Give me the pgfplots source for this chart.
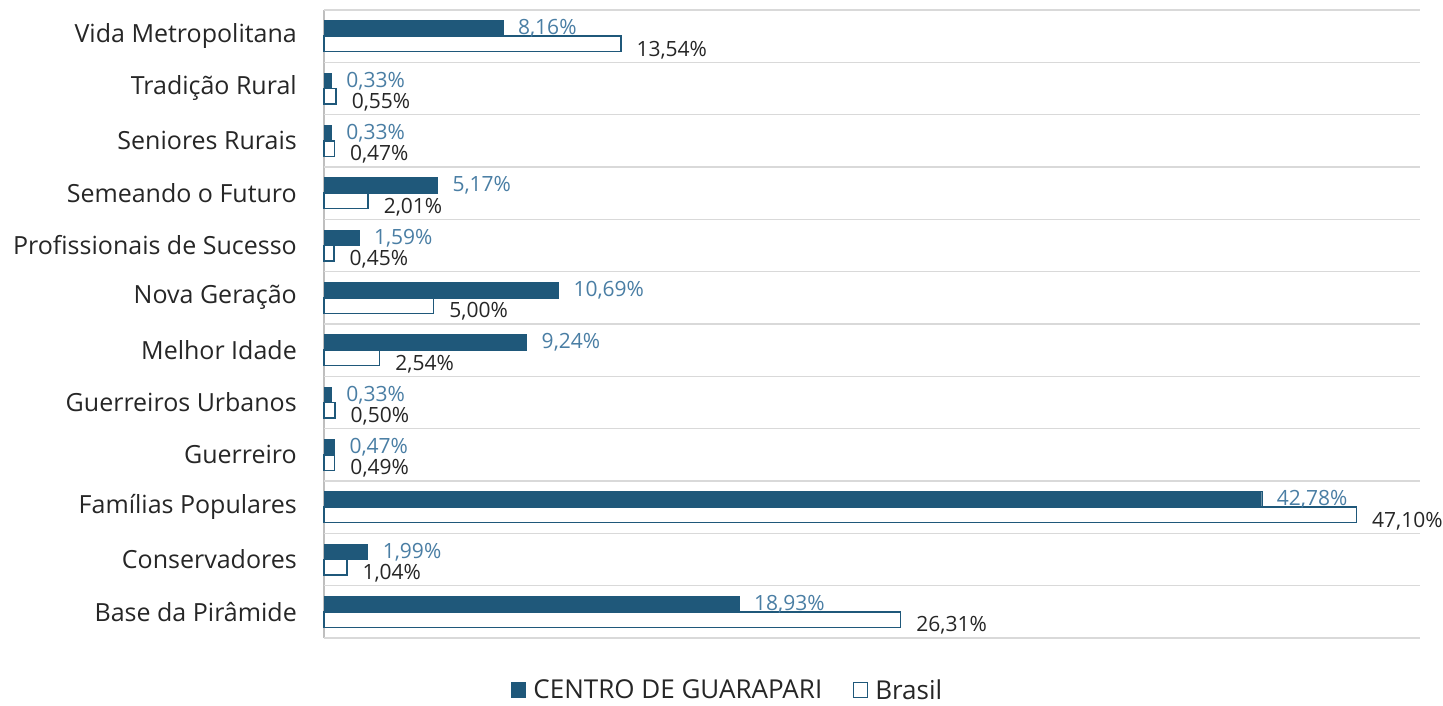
\documentclass[border=0pt]{standalone}
\usepackage{pgfplots}
\pgfplotsset{compat=1.18}
\usepackage{fontspec}
\setmainfont{Open Sans}
\definecolor{darkbar}{RGB}{31,88,122}
\definecolor{lblblue}{RGB}{74,126,164}
\definecolor{txt}{RGB}{38,38,38}
\definecolor{gridc}{RGB}{217,217,217}
\begin{document}
\begin{tikzpicture}
\begin{axis}[
  name=ax,
  scale only axis,
  width=1096bp, height=628bp,
  xbar, clip=false,
  xmin=0, xmax=50,
  ymin=-0.5, ymax=11.5,
  bar width=0.296,
  axis line style={draw=none},
  xtick={0}, xticklabels={},
  xmajorgrids=true,
  x grid style={color=gray!50, line width=1.2bp},
  ytick={0,...,11},
  yticklabels={Base da Pirâmide,Conservadores,Famílias Populares,Guerreiro,Guerreiros Urbanos,Melhor Idade,Nova Geração,Profissionais de Sucesso,Semeando o Futuro,Seniores Rurais,Tradição Rural,Vida Metropolitana},
  minor ytick={-0.5,0.5,...,11.5},
  yminorgrids=true,
  minor grid style={color=gridc, line width=1.5bp},
  major tick length=0pt, minor tick length=0pt,
  yticklabel style={anchor=east, inner sep=0pt, xshift=-27bp, font=\fontsize{25bp}{27bp}\selectfont, text=txt},
  /pgf/number format/assume math mode=true,
  point meta=x,
  nodes near coords={\pgfmathprintnumber[fixed, fixed zerofill, precision=2, use comma]{\pgfplotspointmeta}\%},
  legend columns=2,
  legend style={draw=none, inner sep=0pt, at={(0.368,-0.0828)}, anchor=center, font=\fontsize{26bp}{28bp}\selectfont, text=txt,
    nodes={inner sep=1bp},
    /tikz/every odd column/.style={column sep=6bp},
    /tikz/every even column/.style={column sep=30bp}},
  legend image code/.code={\draw[#1, line width=1bp] (0bp,-7.5bp) rectangle (14bp,7.5bp);},
]
\addplot[fill=darkbar, draw=darkbar, bar shift=0.148,
  every node near coord/.append style={anchor=west, inner sep=0pt, xshift=15bp, text=lblblue, font=\fontsize{21bp}{23bp}\selectfont}]
  coordinates {(18.93,0) (1.99,1) (42.78,2) (0.47,3) (0.33,4) (9.24,5) (10.69,6) (1.59,7) (5.17,8) (0.33,9) (0.33,10) (8.16,11)};
\addlegendentry{\raisebox{0pt}[\height][0pt]{CENTRO DE GUARAPARI}}
\addplot[fill=white, draw=darkbar, line width=1.5bp, bar shift=-0.148,
  every node near coord/.append style={anchor=west, inner sep=0pt, xshift=15bp, yshift=-6bp, text=txt, font=\fontsize{21bp}{23bp}\selectfont}]
  coordinates {(26.31,0) (1.04,1) (47.10,2) (0.49,3) (0.50,4) (2.54,5) (5.00,6) (0.45,7) (2.01,8) (0.47,9) (0.55,10) (13.54,11)};
\addlegendentry{\raisebox{0pt}[\height][0pt]{Brasil}}
\end{axis}
\pgfresetboundingbox
\path[use as bounding box] ([xshift=-324bp,yshift=-67bp]ax.south west) rectangle ([xshift=23bp,yshift=10bp]ax.north east);
\end{tikzpicture}
\end{document}
